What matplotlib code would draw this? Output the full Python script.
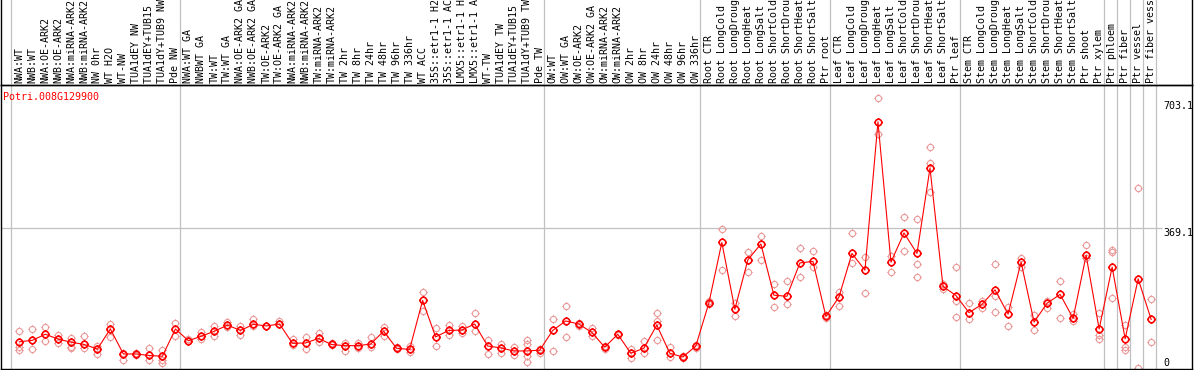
import matplotlib
matplotlib.use('Agg')
import matplotlib.pyplot as plt
from matplotlib.path import Path

gene = 'Potri.008G129900'

labels = ['NWA:WT', 'NWB:WT', 'NWA:OE-ARK2', 'NWB:OE-ARK2', 'NWA:miRNA-ARK2', 'NWB:miRNA-ARK2',
          'NW 0hr', 'WT H2O', 'WT-NW', 'TUA1dEY NW', 'TUA1dEY+TUB15 NW', 'TUA1dY+TUB9 NW', 'Pde NW',
          'NWA:WT GA', 'NWBWT GA', 'TW:WT', 'TW:WT GA', 'NWA:OE-ARK2 GA', 'NWB:OE-ARK2 GA',
          'TW:OE-ARK2', 'TW:OE-ARK2 GA', 'NWA:miRNA-ARK2', 'NWB:miRNA-ARK2', 'TW:miRNA-ARK2',
          'TW:miRNA-ARK2', 'TW 2hr', 'TW 8hr', 'TW 24hr', 'TW 48hr', 'TW 96hr', 'TW 336hr', 'WT ACC',
          '35S::etr1-1 H2O', '35S::etr1-1 ACC', 'LMX5::etr1-1 H2O', 'LMX5::etr1-1 ACC', 'WT-TW',
          'TUA1dEY TW', 'TUA1dEY+TUB15 TW', 'TUA1dY+TUB9 TW', 'Pde TW',
          'OW:WT', 'OW:WT GA', 'OW:OE-ARK2', 'OW:OE-ARK2 GA', 'OW:miRNA-ARK2', 'OW:miRNA-ARK2',
          'OW 2hr', 'OW 8hr', 'OW 24hr', 'OW 48hr', 'OW 96hr', 'OW 336hr',
          'Root CTR', 'Root LongCold', 'Root LongDrought', 'Root LongHeat', 'Root LongSalt',
          'Root ShortCold', 'Root ShortDrought', 'Root ShortHeat', 'Root ShortSalt', 'Ptr root',
          'Leaf CTR', 'Leaf LongCold', 'Leaf LongDrought', 'Leaf LongHeat', 'Leaf LongSalt',
          'Leaf ShortCold', 'Leaf ShortDrought', 'Leaf ShortHeat', 'Leaf ShortSalt', 'Ptr leaf',
          'Stem CTR', 'Stem LongCold', 'Stem LongDrought', 'Stem LongHeat', 'Stem LongSalt',
          'Stem ShortCold', 'Stem ShortDrought', 'Stem ShortHeat', 'Stem ShortSalt', 'Ptr shoot',
          'Ptr xylem', 'Ptr phloem', 'Ptr fiber', 'Ptr vessel', 'Ptr fiber vessel']

means = [69, 73, 89, 76, 68, 62, 50, 103, 37, 37, 33, 31, 103,
         72, 84, 97, 113, 99, 115, 111, 116, 65, 66, 78, 62, 59, 59, 63, 97, 52, 49, 178, 82, 99,
         100, 116, 58, 53, 45, 45, 47,
         99, 124, 116, 94, 55, 89, 39, 52, 113, 39, 29, 58,
         171, 331, 155, 285, 327, 192, 189, 277, 281, 136,
         187, 302, 258, 649, 279, 356, 302, 527, 215, 191,
         146, 168, 206, 142, 279, 121, 171, 194, 131, 297, 103, 266, 77, 235, 128]

reps = [[97, 56, 48], [102, 49, 73], [108, 71], [88, 65], [78, 56, 52], [84, 52], [59, 38],
        [117, 83], [40, 22], [40, 34], [52, 20], [47, 21, 14], [119, 85],
        [76, 70], [94, 77], [112, 84], [120, 108], [111, 87], [128, 110], [111, 112], [124, 116],
        [76, 60], [81, 50], [91, 68], [67, 60], [67, 46], [65, 52], [81, 55], [109, 85], [55, 50],
        [58, 42], [201, 151], [105, 58], [114, 86], [112, 91], [145, 98], [74, 37], [63, 40],
        [56, 33], [73, 62, 31, 17], [39, 50],
        [128, 45], [163, 82], [119, 111], [106, 84], [49, 58], [89, 86], [50, 27], [71, 39],
        [144, 124, 74], [56, 28], [26, 32], [53, 60],
        [177, 168], [366, 258], [172, 137], [307, 252], [348, 284], [221, 160], [229, 169],
        [316, 239], [308, 267], [140, 133],
        [201, 164], [355, 276], [293, 197], [711, 616], [295, 252], [397, 308], [393, 273, 239],
        [582, 540, 463], [207, 222], [265, 177, 134],
        [171, 128], [177, 157], [273, 190, 147], [161, 112], [291, 267], [140, 100], [177, 157],
        [229, 131], [142, 125], [324, 290], [144, 87, 76], [311, 305, 184], [113, 56, 47],
        [475, 0], [182, 68]]

group_edges = [0, 13, 41, 53, 63, 73, 84, 85, 86, 87, 88]
y_ticks = [703.1, 369.1, 0]
grid_value = 369.1

W, H = 1194, 370
fig = plt.figure(figsize=(W / 100, H / 100), dpi=100)
ax = fig.add_axes([1 / W, 1 / H, 1191 / W, 284 / H])
lab = fig.add_axes([1 / W, 285 / H, 1191 / W, 85 / H], sharex=ax)

# pixel x = 19.3 + 13.01 * i
x0, step = 19.3, 13.01
ax.set_xlim((1 - x0) / step, (1192 - x0) / step)
ax.set_ylim(-2.6, 746)
lab.set_ylim(0, 1)

mono = 'DejaVu Sans Mono'
fs = 7.2

# marker: circle with four short ticks
verts = [(0, 1), (0, 1.35), (0, -1), (0, -1.35), (1, 0), (1.35, 0), (-1, 0), (-1.35, 0)]
codes = [Path.MOVETO, Path.LINETO] * 4
sun = Path.make_compound_path(Path.unit_circle(), Path(verts, codes))

off = (10.7 - x0) / step
for k in group_edges:
    ax.axvline(k + off, color='#c0c0c0', lw=0.9, zorder=0)
    lab.axvline(k + off, color='#c0c0c0', lw=0.9, zorder=0)
x_grid_end = (1162 - x0) / step
ax.hlines(grid_value, ax.get_xlim()[0], x_grid_end, color='#c0c0c0', lw=0.9, zorder=0)

rx = [i for i, r in enumerate(reps) for _ in r]
ry = [v for r in reps for v in r]
ax.plot(rx, ry, linestyle='none', marker=sun, markersize=6.0, markerfacecolor='none',
        markeredgecolor='#eb9a9a', markeredgewidth=0.8, zorder=2)
xs = list(range(len(means)))
ax.plot(xs, means, color='#ff0000', lw=0.8, zorder=3)
ax.plot(xs, means, linestyle='none', marker=sun, markersize=6.3, markerfacecolor='none',
        markeredgecolor='#ff0000', markeredgewidth=1.15, zorder=4)

for i, name in enumerate(labels):
    lab.text(i, 2 / 85, name, rotation=90, ha='center', va='bottom', family=mono,
             fontsize=fs, color='black')

tx = (1163 - x0) / step
for v in y_ticks:
    ax.text(tx, v, ('%g' % v) if v == 0 else '%.1f' % v, ha='left',
            va='bottom' if v == 0 else 'top', family=mono, fontsize=fs, color='black')

fig.text(3 / W, 1 - 97 / H, gene, ha='left', va='center', family=mono, fontsize=fs,
         color='#ff0000')

for a in (ax, lab):
    a.set_xticks([])
    a.set_yticks([])
    for s in a.spines.values():
        s.set_linewidth(1.0)
        s.set_color('black')
lab.spines['top'].set_visible(False)
lab.set_facecolor('none')

fig.savefig('out.png', dpi=100)
